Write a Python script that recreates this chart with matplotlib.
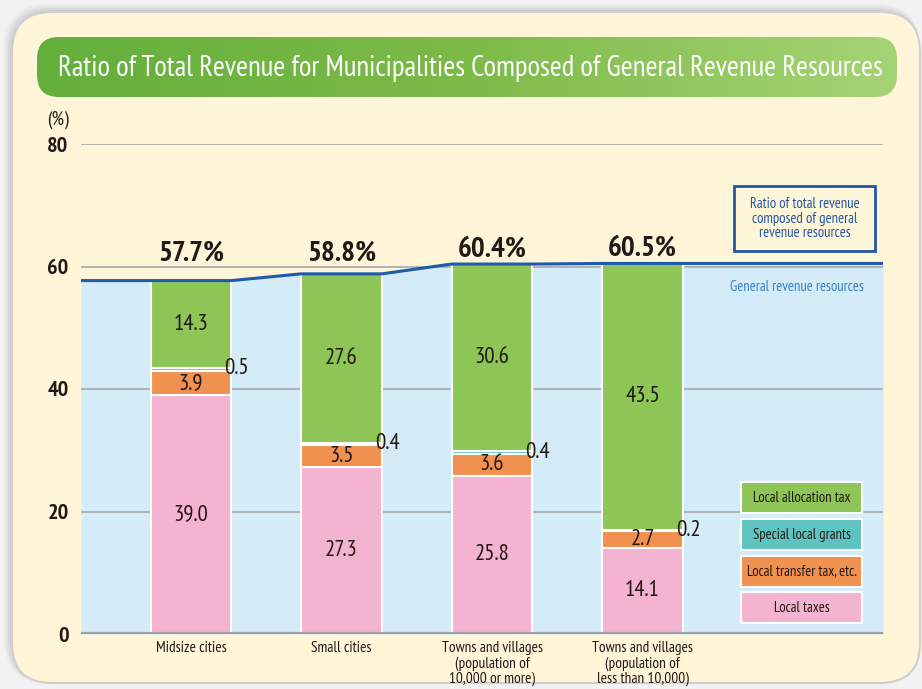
import numpy as np
import matplotlib
matplotlib.use('Agg')
import matplotlib.pyplot as plt
from matplotlib.patches import FancyBboxPatch
from matplotlib.colors import LinearSegmentedColormap
from matplotlib import font_manager

# ---------------- data ----------------
categories = ['Midsize cities', 'Small cities',
              'Towns and villages\n(population of\n10,000 or more)',
              'Towns and villages\n(population of\nless than 10,000)']
local_taxes = [39.0, 27.3, 25.8, 14.1]
local_transfer_tax = [3.9, 3.5, 3.6, 2.7]
special_local_grants = [0.5, 0.4, 0.4, 0.2]
local_allocation_tax = [14.3, 27.6, 30.6, 43.5]
general_ratio = [57.7, 58.8, 60.4, 60.5]
series_names = ['Local taxes', 'Local transfer tax, etc.', 'Special local grants', 'Local allocation tax']
series_colors = ['#F4B3D0', '#F0914F', '#5FC3BF', '#8DC556']
yticks = [0, 20, 40, 60, 80]
title = 'Ratio of Total Revenue for Municipalities Composed of General Revenue Resources'

# ---------------- fonts ----------------
names = {f.name for f in font_manager.fontManager.ttflist}
chosen = 'DejaVu Sans'
for cand in ['PT Sans Narrow', 'Pragati Narrow', 'Barlow Condensed', 'Roboto Condensed', 'Archivo Narrow']:
    if cand in names:
        chosen = cand
        break
plt.rcParams['font.family'] = [chosen, 'DejaVu Sans']
if chosen == 'DejaVu Sans':
    plt.rcParams['font.stretch'] = 'condensed'
DARK = '#231815'

W, H = 922, 689
fig = plt.figure(figsize=(W / 100, H / 100), dpi=100, facecolor='#F2F2F2')

# background panel (pixel coordinates)
bg = fig.add_axes([0, 0, 1, 1], zorder=0)
bg.set_xlim(0, W); bg.set_ylim(H, 0); bg.axis('off')
for k, a in enumerate([0.06, 0.08, 0.10, 0.12]):
    off = 8 - 2 * k
    bg.add_patch(FancyBboxPatch((12 - off, 12 - off), 908 + off, 671 + off,
                                boxstyle='round,pad=0,rounding_size=44',
                                fc='#808080', ec='none', alpha=a))
bg.add_patch(FancyBboxPatch((12, 12), 908, 671, boxstyle='round,pad=0,rounding_size=40',
                            fc='#FFF5D9', ec='#D0D0D0', lw=1.5))

# ---------------- main chart ----------------
ax = fig.add_axes([81 / W, 55 / H, 802 / W, 490 / H], zorder=1)
ax.patch.set_alpha(0)
x = np.arange(len(categories))
w = 0.538
xmin, xmax = -0.731, 4.598
ax.set_xlim(xmin, xmax)
ax.set_ylim(0, 80)
for s in ax.spines.values():
    s.set_visible(False)

# general revenue resources area + line
lx = [xmin]; ly = [general_ratio[0]]
for xi, g in zip(x, general_ratio):
    lx += [xi - w / 2, xi + w / 2]; ly += [g, g]
lx += [xmax]; ly += [general_ratio[-1]]
ax.fill_between(lx, 0, ly, color='#D4EBF8', lw=0, zorder=1)

for t in yticks[1:]:
    ax.axhline(t, color='#A8A8A8', lw=1.2, zorder=2)
ax.axhline(0, color='#A0A0A0', lw=3, zorder=5)

series = [local_taxes, local_transfer_tax, special_local_grants, local_allocation_tax]
bottom = np.zeros(len(x))
tops = []
for vals, col in zip(series, series_colors):
    vals = np.array(vals)
    ax.bar(x, vals, w, bottom=bottom, color=col, edgecolor='white', linewidth=1.5, zorder=3)
    tops.append(bottom + vals)
    bottom = bottom + vals

ax.plot(lx, ly, color='#1E5BAA', lw=2.2, zorder=4, solid_capstyle='butt')

# segment labels
lab_fs = 16.5
for i in range(len(x)):
    ax.text(x[i], local_taxes[i] / 2, f'{local_taxes[i]:.1f}', ha='center', va='center',
            fontsize=lab_fs, color=DARK, zorder=6)
    ax.text(x[i], tops[0][i] + local_transfer_tax[i] / 2, f'{local_transfer_tax[i]:.1f}',
            ha='center', va='center', fontsize=lab_fs, color=DARK, zorder=6)
    ax.text(x[i] + w / 2 + 0.035, tops[2][i] - 0.1, f'{special_local_grants[i]:.1f}',
            ha='center', va='center', fontsize=lab_fs, color=DARK, zorder=6)
    ax.text(x[i], tops[2][i] + local_allocation_tax[i] / 2, f'{local_allocation_tax[i]:.1f}',
            ha='center', va='center', fontsize=lab_fs, color=DARK, zorder=6)
    ax.text(x[i], max(general_ratio[i] + 2.35, 62.1), f'{general_ratio[i]:.1f}%',
            ha='center', va='center', fontsize=21, fontweight='bold', color=DARK, zorder=6)

ax.set_yticks(yticks)
ax.set_yticklabels([str(t) for t in yticks], fontsize=16, fontweight='bold', color=DARK)
ax.set_xticks(x)
ax.set_xticklabels(categories, fontsize=11, color=DARK, linespacing=1.1, va='top')
ax.tick_params(axis='y', length=0, pad=9)
ax.tick_params(axis='x', length=0, pad=5)

# ---------------- overlay: title, legend, notes ----------------
ov = fig.add_axes([0, 0, 1, 1], zorder=3)
ov.patch.set_alpha(0)
tbox = FancyBboxPatch((37, 37), 860, 60, boxstyle='round,pad=0,rounding_size=22',
                      fc='none', ec='none')
ov.add_patch(tbox)
cmap = LinearSegmentedColormap.from_list('g', ['#64AF3C', '#7DBA48', '#A5D474'])
im = ov.imshow(np.linspace(0, 1, 256).reshape(1, -1), cmap=cmap, aspect='auto',
               extent=[37, 897, 97, 37], zorder=1)
im.set_clip_path(tbox)
ov.set_xlim(0, W); ov.set_ylim(H, 0); ov.axis('off')

tt = ov.text(470, 68, title, ha='center', va='center', color='white', fontsize=24, zorder=2)
fig.canvas.draw()
bb = tt.get_window_extent()
tt.set_fontsize(min(24 * 820 / bb.width, 26))

ov.text(58, 120, '(%)', ha='center', va='center', fontsize=14, color=DARK)

# legend boxes (top to bottom)
leg_top = [482, 519, 556, 592]
for name, col, yt in zip(series_names[::-1], series_colors[::-1], leg_top):
    ov.add_patch(FancyBboxPatch((741, yt), 121, 31, boxstyle='square,pad=0', fc=col,
                                ec='white', lw=1.5, zorder=2))
    ov.text(801.5, yt + 15.5, name, ha='center', va='center', fontsize=10.5, color=DARK, zorder=3)

# ratio note box
ov.add_patch(FancyBboxPatch((734, 186), 141, 65, boxstyle='square,pad=0', fc='#FFF5D9',
                            ec='#2456A6', lw=2, zorder=2))
ov.text(804.5, 218.5, 'Ratio of total revenue\ncomposed of general\nrevenue resources',
        ha='center', va='center', fontsize=10.5, color='#2456A6', linespacing=1.05, zorder=3)
ov.text(797, 287, 'General revenue resources', ha='center', va='center', fontsize=10.5,
        color='#3A80C8', zorder=3)

fig.savefig('out.png', dpi=100, facecolor=fig.get_facecolor())
